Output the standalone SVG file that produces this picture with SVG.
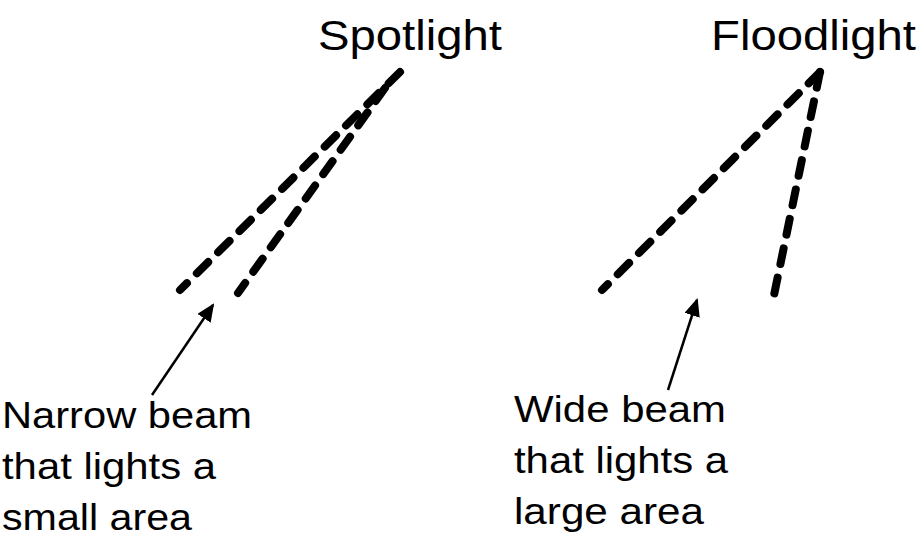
<svg xmlns="http://www.w3.org/2000/svg" width="918" height="546" viewBox="0 0 918 546">
<style>
.t{font-family:"Liberation Sans",Arial,sans-serif;fill:#000}
.b{stroke:#000;stroke-width:8;stroke-dasharray:16 14;stroke-linecap:round;fill:none}
.a{stroke:#000;stroke-width:2.5;fill:none}
</style>
<defs>
<marker id="ah2" markerWidth="18" markerHeight="16" refX="16" refY="8" orient="auto" markerUnits="userSpaceOnUse" viewBox="0 0 18 16"><path d="M0,0 L18,8 L0,16 Z" fill="#000"/></marker></defs>
<rect width="918" height="546" fill="#fff"/>
<g id="spotlight"><text class="t" x="318" y="50" font-size="42" textLength="184" lengthAdjust="spacingAndGlyphs">Spotlight</text></g>
<g id="floodlight"><text class="t" x="711" y="50" font-size="42" textLength="205" lengthAdjust="spacingAndGlyphs">Floodlight</text></g>
<g id="narrow-label" class="t" font-size="36"><text x="2" y="428" textLength="250" lengthAdjust="spacingAndGlyphs">Narrow beam</text><text x="2" y="479" textLength="214" lengthAdjust="spacingAndGlyphs">that lights a</text><text x="2" y="530" textLength="190" lengthAdjust="spacingAndGlyphs">small area</text></g>
<g id="wide-label" class="t" font-size="36"><text x="514" y="422" textLength="212" lengthAdjust="spacingAndGlyphs">Wide beam</text><text x="514" y="473" textLength="214" lengthAdjust="spacingAndGlyphs">that lights a</text><text x="514" y="524" textLength="190" lengthAdjust="spacingAndGlyphs">large area</text></g>
<g id="connectors">
<line class="b" x1="400" y1="72" x2="180" y2="290"/>
<line class="b" x1="385" y1="88" x2="238" y2="293"/>
<line class="b" x1="820" y1="72" x2="602" y2="290"/>
<line class="b" x1="820" y1="72" x2="773" y2="300"/>
<line class="a" x1="152" y1="395" x2="213" y2="305" marker-end="url(#ah2)"/>
<line class="a" x1="668" y1="390" x2="697" y2="300" marker-end="url(#ah2)"/>
</g>
</svg>
